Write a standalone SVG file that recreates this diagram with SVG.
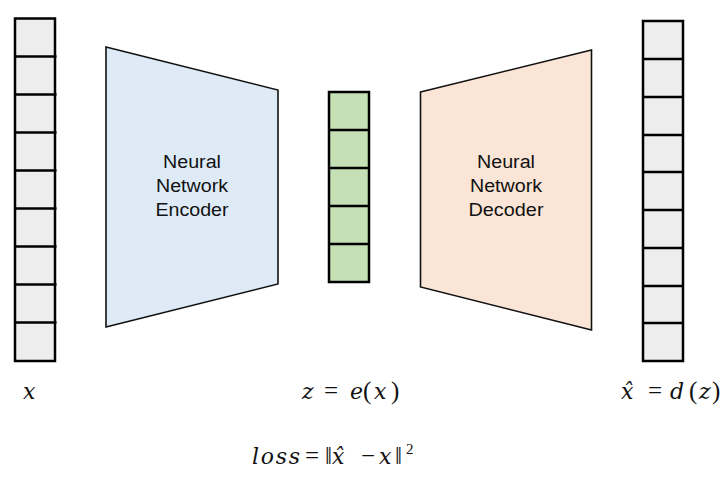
<svg xmlns="http://www.w3.org/2000/svg" width="727" height="481" viewBox="0 0 727 481">
<style>
.cell{stroke:#000;stroke-width:2.5}
.gray{fill:#ededed}
.green{fill:#c5e0b4}
.trap{stroke:#111;stroke-width:1.6;stroke-linejoin:miter}
.lbl{font-family:"Liberation Sans",Arial,sans-serif;font-size:18px;fill:#111;text-anchor:middle}
.math{font-family:"DejaVu Serif","Liberation Serif",serif;font-size:22px;fill:#111;font-style:italic}
.up{font-style:normal;font-family:"Liberation Serif","DejaVu Serif",serif;font-size:25px}
.sup{font-style:normal;font-family:"Liberation Serif","DejaVu Serif",serif;font-size:15px}
</style>
<rect width="727" height="481" fill="#fff"/>
<g id="input-x">
<rect class="cell gray" x="15" y="18.5" width="40" height="342.5"/>
<path class="cell" d="M15 56.5H56.5M15 94.5H56.5M15 132.5H56.5M15 170.5H56.5M15 208.5H56.5M15 246.5H56.5M15 284.5H56.5M15 322.5H56.5"/>
</g>
<g id="encoder">
<polygon class="trap" fill="#deebf7" points="106,47 278,90 278,284 106,327"/>
<text class="lbl" x="192" y="168" textLength="58" lengthAdjust="spacingAndGlyphs">Neural</text>
<text class="lbl" x="192" y="192" textLength="72" lengthAdjust="spacingAndGlyphs">Network</text>
<text class="lbl" x="192" y="216" textLength="73" lengthAdjust="spacingAndGlyphs">Encoder</text>
</g>
<g id="latent-z">
<rect class="cell green" x="329" y="92" width="40" height="190"/>
<path class="cell" d="M329 130H370M329 168H370M329 206H370M329 244H370"/>
</g>
<g id="decoder">
<polygon class="trap" fill="#fbe5d6" points="420.5,92 591.5,50 591.5,330 420.5,287"/>
<text class="lbl" x="506" y="168" textLength="58" lengthAdjust="spacingAndGlyphs">Neural</text>
<text class="lbl" x="506" y="192" textLength="72" lengthAdjust="spacingAndGlyphs">Network</text>
<text class="lbl" x="506" y="216" textLength="75" lengthAdjust="spacingAndGlyphs">Decoder</text>
</g>
<g id="output-xhat">
<rect class="cell gray" x="643" y="21" width="40" height="340"/>
<path class="cell" d="M643 59H683M643 97H683M643 135H683M643 172H683M643 210H683M643 248H683M643 286H683M643 323H683"/>
</g>
<g id="connectors"></g>
<g id="labels">
<text class="math" x="23" y="399">x</text>
<text class="math" y="399"><tspan x="302">z</tspan><tspan class="up" x="324">=</tspan><tspan x="350">e</tspan><tspan class="up" x="363">(</tspan><tspan x="374">x</tspan><tspan class="up" x="391">)</tspan></text>
<text class="math" y="399"><tspan x="621">x̂</tspan><tspan class="up" x="648">=</tspan><tspan x="670">d</tspan><tspan class="up" x="689">(</tspan><tspan x="699">z</tspan><tspan class="up" x="712">)</tspan></text>
<text class="math" y="464"><tspan x="252" textLength="48" lengthAdjust="spacing">loss</tspan><tspan class="up" x="305">=</tspan><tspan class="up" x="325">‖</tspan><tspan x="332">x̂</tspan><tspan class="up" x="361">−</tspan><tspan x="379">x</tspan><tspan class="up" x="395">‖</tspan><tspan class="sup" x="406" dy="-10">2</tspan></text>
</g>
</svg>
